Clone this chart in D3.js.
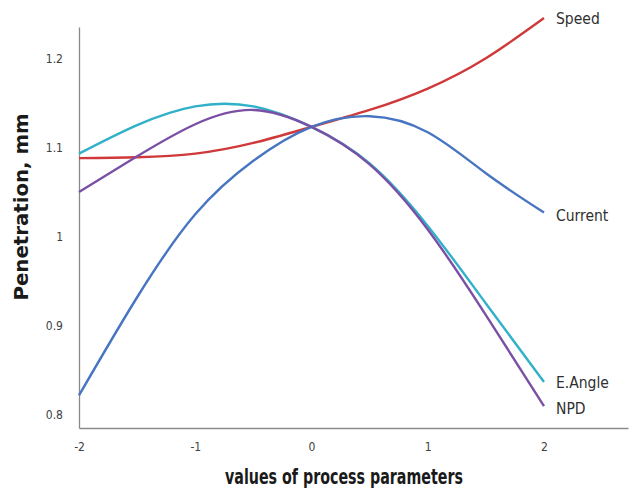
<!DOCTYPE html>
<html>
<head>
<meta charset="utf-8">
<script src="https://cdn.jsdelivr.net/npm/d3@7"></script>
<style>
  body { margin: 0; background: #fff; }
  svg { display: block; }
</style>
</head>
<body>
<script>
// Chart data
const xValues = [-2, -1.5, -1, -0.5, 0, 0.5, 1, 1.5, 2]
const speed   = [1.088, 1.089, 1.093, 1.105, 1.123, 1.142, 1.166, 1.200, 1.245]
const current = [0.822, 0.932, 1.025, 1.085, 1.123, 1.135, 1.117, 1.071, 1.027]
const eAngle  = [1.093, 1.125, 1.146, 1.146, 1.123, 1.082, 1.012, 0.925, 0.837]
const npd     = [1.050, 1.090, 1.126, 1.142, 1.123, 1.081, 1.008, 0.912, 0.810]
const seriesNames = ["Speed", "Current", "E.Angle", "NPD"]
const xTicks = [-2, -1, 0, 1, 2]
const yTicks = [0.8, 0.9, 1, 1.1, 1.2]

// Chart setup
const w = 629
const h = 490
const plotLeft = 79
const plotBottom = 428
const plotTop = 27

const colors = ["#cf393a", "#4775c1", "#31b1c9", "#7a50a5"]
const values = [speed, current, eAngle, npd]
const labelDy = [0, 3, 1, 3]

const narrow = '"DejaVu Sans Condensed", sans-serif'

const svg = d3.select("body")
    .append("svg")
    .attr("width", w)
    .attr("height", h)

const xScale = d3.scaleLinear()
    .domain([-2, 2 + (628 - 544) / 116.25])
    .range([plotLeft, 628])

const yScale = d3.scaleLinear()
    .domain([0.7854, 1.235])
    .range([plotBottom, plotTop])

// Axes
const xAxis = d3.axisBottom(xScale)
    .tickValues(xTicks)
    .tickSize(0)
    .tickPadding(14)
    .tickFormat(d => String(d))

const yAxis = d3.axisLeft(yScale)
    .tickValues(yTicks)
    .tickSize(0)
    .tickPadding(16)
    .tickFormat(d => d === 1 ? "1" : d3.format(".1f")(d))

const gx = svg.append("g")
    .attr("transform", `translate(0, ${plotBottom})`)
    .call(xAxis)

const gy = svg.append("g")
    .attr("transform", `translate(${plotLeft}, 0)`)
    .call(yAxis)

for (const g of [gx, gy]) {
    g.select(".domain").attr("stroke", "#8a8a8a").attr("stroke-width", 1.3)
    g.selectAll("text")
        .attr("fill", "#404040")
        .style("font-family", narrow)
        .style("font-size", "12px")
}

// Lines
const line = d3.line()
    .x((d, i) => xScale(xValues[i]))
    .y(d => yScale(d))
    .curve(d3.curveNatural)

svg.append("g")
    .selectAll("path")
    .data(values)
    .join("path")
    .attr("d", line)
    .attr("fill", "none")
    .attr("stroke", (d, i) => colors[i])
    .attr("stroke-width", 2.4)

// Series labels at the right end
svg.append("g")
    .selectAll("text")
    .data(values)
    .join("text")
    .attr("x", xScale(2) + 12)
    .attr("y", (d, i) => yScale(d[d.length - 1]) + labelDy[i])
    .attr("dy", "0.35em")
    .attr("fill", "#303030")
    .style("font-family", narrow)
    .style("font-size", "15.5px")
    .text((d, i) => seriesNames[i])

// Axis titles
svg.append("text")
    .attr("x", 344)
    .attr("y", 484)
    .attr("text-anchor", "middle")
    .attr("textLength", 238)
    .attr("lengthAdjust", "spacingAndGlyphs")
    .attr("fill", "#1a1a1a")
    .style("font-family", narrow)
    .style("font-weight", "bold")
    .style("font-size", "21px")
    .text("values of process parameters")

svg.append("text")
    .attr("transform", `translate(28, 207) rotate(-90)`)
    .attr("text-anchor", "middle")
    .attr("textLength", 187)
    .attr("lengthAdjust", "spacingAndGlyphs")
    .attr("fill", "#1a1a1a")
    .style("font-family", "'DejaVu Sans', sans-serif")
    .style("font-weight", "bold")
    .style("font-size", "20px")
    .text("Penetration, mm")
</script>
</body>
</html>
